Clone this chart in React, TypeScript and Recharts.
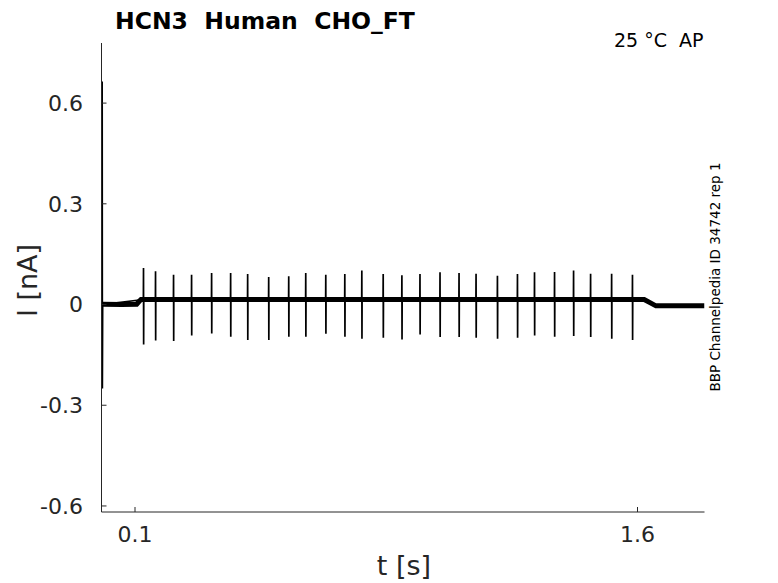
import React from 'react';
import { LineChart, Line, XAxis, YAxis } from 'recharts';

// stimulus artefacts (AP protocol), times in s, current in nA
const spikeTimes = [
  0.1254, 0.1613, 0.2151, 0.2689, 0.3287, 0.3855, 0.4363, 0.4991, 0.5589,
  0.6097, 0.6695, 0.7263, 0.7771, 0.8409, 0.8967, 0.9507, 1.0105, 1.0673,
  1.1181, 1.1819, 1.2417, 1.2926, 1.3524, 1.4092, 1.46, 1.5228, 1.585,
];
const spikePeaks = [
  0.109, 0.099, 0.089, 0.089, 0.094, 0.094, 0.091, 0.082, 0.084, 0.094, 0.089,
  0.091, 0.101, 0.091, 0.087, 0.091, 0.096, 0.094, 0.092, 0.086, 0.091, 0.096,
  0.097, 0.101, 0.092, 0.092, 0.089,
];
const spikeTroughs = [
  -0.119, -0.107, -0.109, -0.092, -0.086, -0.096, -0.106, -0.106, -0.096,
  -0.096, -0.087, -0.096, -0.102, -0.099, -0.104, -0.089, -0.097, -0.097,
  -0.099, -0.102, -0.099, -0.092, -0.096, -0.094, -0.097, -0.102, -0.106,
];
const spikeBase = 0.015;

// holding current (noisy trace drawn as a thick band)
const baselineTimes = [0.003, 0.06, 0.105, 0.112, 0.118, 0.5, 1.0, 1.62, 1.64, 1.655, 1.8];
const baselineValues = [0.001, 0.0, 0.001, 0.009, 0.015, 0.015, 0.015, 0.015, 0.004, -0.004, -0.004];

// onset transient
const transientTimes = [0.0015, 0.002, 0.0026, 0.0035];
const transientValues = [0.0, 0.664, -0.25, 0.0];

const xTicks = [0.1, 1.6];
const yTicks = [-0.6, -0.3, 0, 0.3, 0.6];

const AXIS = '#262626';
const FONT = '"DejaVu Sans", sans-serif';

const baselineData = baselineTimes.map((t, i) => ({ t, v: baselineValues[i] }));
const spikeData = [
  ...transientTimes.map((t, i) => ({ t, v: transientValues[i] })),
  ...spikeTimes.flatMap((t, i) => [
    { t: t - 0.0004, v: spikeBase },
    { t, v: spikePeaks[i] },
    { t: t + 0.0004, v: spikeTroughs[i] },
    { t: t + 0.0008, v: spikeBase },
  ]),
];

const App: React.FC = () => {
  return (
    <div style={{ position: 'absolute', left: 0, top: 0, width: 778, height: 583, background: '#fff' }}>
      <LineChart
        width={778}
        height={583}
        margin={{ top: 43, right: 73.5, bottom: 0, left: 0 }}
      >
        <XAxis
          type="number"
          dataKey="t"
          domain={[0, 1.8]}
          ticks={xTicks}
          height={71}
          stroke={AXIS}
          tickSize={-5}
          tickMargin={19}
          tick={{ fill: AXIS, fontSize: 22, fontFamily: FONT }}
          allowDataOverflow
          label={{
            content: () => (
              <text x={404} y={575} textAnchor="middle" fill={AXIS} fontSize={27} fontFamily={FONT}>
                t [s]
              </text>
            ),
          }}
        />
        <YAxis
          type="number"
          dataKey="v"
          domain={[-0.618, 0.779]}
          ticks={yTicks}
          width={101.5}
          stroke={AXIS}
          tickSize={-5}
          tickMargin={23.5}
          tick={{ fill: AXIS, fontSize: 22, fontFamily: FONT }}
          allowDataOverflow
          label={{
            content: () => (
              <text
                x={37}
                y={280.5}
                transform="rotate(-90, 37, 280.5)"
                textAnchor="middle"
                fill={AXIS}
                fontSize={27}
                fontFamily={FONT}
              >
                I [nA]
              </text>
            ),
          }}
        />
        <Line
          data={baselineData}
          dataKey="v"
          type="linear"
          stroke="#000"
          strokeWidth={5}
          dot={false}
          activeDot={false}
          isAnimationActive={false}
        />
        <Line
          data={spikeData}
          dataKey="v"
          type="linear"
          stroke="#000"
          strokeWidth={1.7}
          dot={false}
          activeDot={false}
          isAnimationActive={false}
        />
      </LineChart>
      <svg
        width={778}
        height={583}
        style={{ position: 'absolute', left: 0, top: 0, pointerEvents: 'none' }}
      >
        <text x={115} y={29} fontSize={23.5} fontWeight="bold" fontFamily={FONT} fill="#000" style={{ whiteSpace: 'pre' }}>
          {'HCN3  Human  CHO_FT'}
        </text>
        <text x={614} y={47} fontSize={19} fontFamily={FONT} fill="#000" style={{ whiteSpace: 'pre' }}>
          {'25 °C  AP'}
        </text>
        <text
          x={720}
          y={277}
          transform="rotate(-90, 720, 277)"
          textAnchor="middle"
          fontSize={13.5}
          fontFamily={FONT}
          fill="#000"
        >
          BBP Channelpedia ID 34742 rep 1
        </text>
      </svg>
    </div>
  );
};

export default App;
